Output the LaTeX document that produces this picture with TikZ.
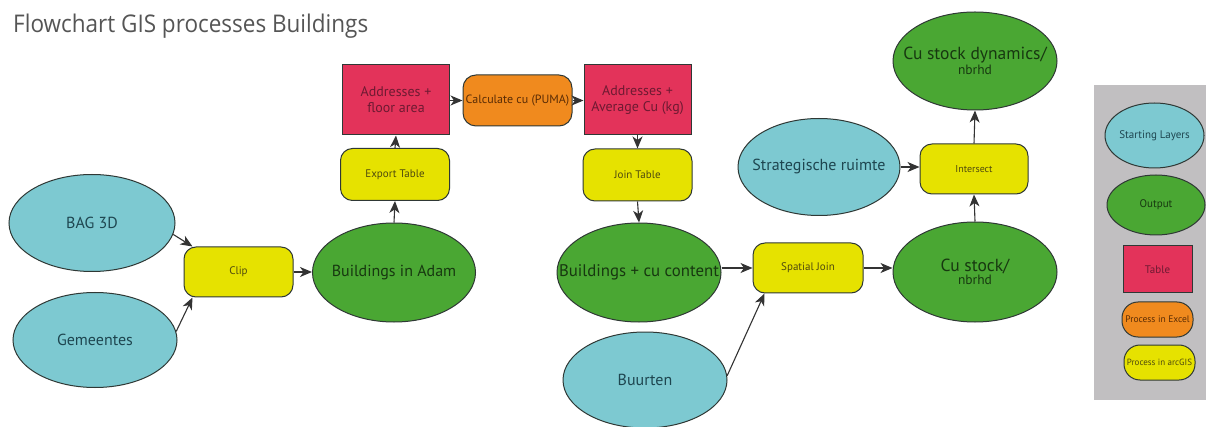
\documentclass[tikz,border=0pt]{standalone}
\usepackage{fontspec}
\setmainfont{PT Sans}
\newfontfamily\titlefont{Open Sans}
\usetikzlibrary{shapes.geometric,arrows.meta}
\definecolor{cyanc}{HTML}{7DC9D1}
\definecolor{greenc}{HTML}{4AA733}
\definecolor{tablec}{HTML}{E3335A}
\definecolor{orangec}{HTML}{F08A1E}
\definecolor{yellowc}{HTML}{E6E200}
\definecolor{panelc}{HTML}{C1BFC1}
\definecolor{edgec}{HTML}{2F3835}
\definecolor{cyantext}{HTML}{1E4650}
\definecolor{greentext}{HTML}{173810}
\definecolor{tabletext}{HTML}{6E1A32}
\definecolor{yellowtext}{HTML}{4F4A0E}
\definecolor{orangetext}{HTML}{5A2C05}
\definecolor{arrowc}{HTML}{333333}
\definecolor{titlec}{HTML}{555555}
\newcommand{\zw}[1]{\makebox[0pt][c]{#1}}
\tikzset{
  base/.style={draw=edgec, line width=1pt, inner sep=0pt, align=center},
  layer/.style={base, ellipse, fill=cyanc, text=cyantext},
  outp/.style={base, ellipse, fill=greenc, text=greentext},
  tbl/.style={base, rectangle, fill=tablec, text=tabletext},
  gisproc/.style={base, rectangle, rounded corners=12pt, fill=yellowc, text=yellowtext},
  xlproc/.style={base, rectangle, rounded corners=13pt, fill=orangec, text=orangetext},
  arr/.style={draw=arrowc, line width=1.1pt, -{Stealth[length=12pt,width=10pt,inset=3.5pt]}},
  big/.style={font=\fontsize{16}{19}\selectfont},
}
\begin{document}
\begin{tikzpicture}[x=1pt,y=-1pt]
\useasboundingbox[fill=white] (0,0) rectangle (1206,427);

% title
\node[anchor=base west, inner sep=0pt, text=titlec] (title) at (13,33)
  {\resizebox{355pt}{18.5pt}{\titlefont Flowchart GIS processes Buildings}};

% legend panel
\fill[panelc] (1094,85) rectangle (1206,400);

% nodes
\node[layer, big, minimum width=166pt, minimum height=97pt] (bag) at (92,223) {\zw{BAG 3D}};
\node[layer, big, minimum width=164pt, minimum height=95pt] (gem) at (95,340) {\zw{Gemeentes}};
\node[gisproc, font=\fontsize{11}{13}\selectfont, minimum width=109pt, minimum height=50pt] (clip) at (238.5,272) {Clip};
\node[outp, big, minimum width=163pt, minimum height=99pt] (adam) at (394,272.5) {\zw{Buildings in Adam}};
\node[gisproc, font=\fontsize{11}{13}\selectfont, minimum width=109pt, minimum height=52pt] (export) at (395,174.5) {Export Table};
\node[tbl, font=\fontsize{14}{16}\selectfont, minimum width=107pt, minimum height=70pt] (addr1) at (396,100) {\zw{Addresses +}\\\zw{floor area}};
\node[xlproc, font=\fontsize{12}{14}\selectfont, minimum width=109pt, minimum height=51pt] (calc) at (517.5,100.5) {\zw{Calculate cu (PUMA)}};
\node[tbl, font=\fontsize{14}{16}\selectfont, minimum width=107pt, minimum height=70pt] (addr2) at (637.5,100) {\zw{Addresses +}\\\zw{Average Cu (kg)}};
\node[gisproc, font=\fontsize{11}{13}\selectfont, minimum width=109pt, minimum height=52pt] (join) at (637.5,175) {Join Table};
\node[outp, font=\fontsize{16.8}{20}\selectfont, minimum width=164pt, minimum height=99pt] (bcu) at (639,272.5) {\zw{Buildings + cu content}};
\node[gisproc, font=\fontsize{11}{13}\selectfont, minimum width=110pt, minimum height=50pt] (spatial) at (808,268) {Spatial Join};
\node[layer, big, minimum width=164pt, minimum height=96pt] (buurten) at (645,380) {\zw{Buurten}};
\node[outp, minimum width=164pt, minimum height=100pt] (custock) at (975,272)
  {\zw{\fontsize{17.5}{20}\selectfont Cu stock/}\\[1pt]\zw{\fontsize{13.5}{16}\selectfont nbrhd}};
\node[layer, big, minimum width=162pt, minimum height=97pt] (strat) at (819,167) {\zw{Strategische ruimte}};
\node[gisproc, font=\fontsize{10}{12}\selectfont, minimum width=108pt, minimum height=50pt] (inter) at (974,169) {Intersect};
\node[outp, minimum width=164pt, minimum height=98pt] (dyn) at (975,61)
  {\zw{\fontsize{17.5}{20}\selectfont Cu stock dynamics/}\\[1pt]\zw{\fontsize{13.5}{16}\selectfont nbrhd}};

% legend entries
\node[layer, font=\fontsize{11}{13}\selectfont, minimum width=99pt, minimum height=65pt] (lgstart) at (1154.5,135.5) {\zw{Starting Layers}};
\node[outp, font=\fontsize{11}{13}\selectfont, minimum width=98pt, minimum height=60pt] (lgout) at (1156,205) {\zw{Output}};
\node[tbl, font=\fontsize{11}{13}\selectfont, minimum width=69pt, minimum height=47pt] (lgtab) at (1157.5,269.5) {Table};
\node[xlproc, rounded corners=16pt, font=\fontsize{9.5}{11}\selectfont, minimum width=71pt, minimum height=35pt] (lgexcel) at (1157.5,319.5) {\zw{Process in Excel}};
\node[gisproc, rounded corners=16pt, font=\fontsize{9}{11}\selectfont, minimum width=71pt, minimum height=35pt] (lgarc) at (1159.5,362.5) {\zw{Process in arcGIS}};

% connectors
\draw[arr] (bag.-8) -- ([xshift=9pt]clip.north west);
\draw[arr] (gem.6) -- ([xshift=9pt]clip.south west);
\draw[arr] (clip.east) -- (clip.east -| adam.west);
\draw[arr] (adam.north) -- (export.south);
\draw[arr] (export.north) -- (addr1.south);
\draw[arr] (addr1.east |- calc.west) -- (calc.west);
\draw[arr] (calc.east) -- (calc.east -| addr2.west);
\draw[arr] (addr2.south) -- (join.north);
\draw[arr] (join.south) -- (bcu.north);
\draw[arr] (bcu.east |- spatial.west) -- (spatial.west);
\draw[arr] (buurten.3) -- ([xshift=12pt]spatial.south west);
\draw[arr] (spatial.east) -- (spatial.east -| custock.west);
\draw[arr] (custock.north) -- (inter.south);
\draw[arr] (strat.east) -- (strat.east -| inter.west);
\draw[arr] (inter.north) -- (dyn.south);
\end{tikzpicture}
\end{document}
